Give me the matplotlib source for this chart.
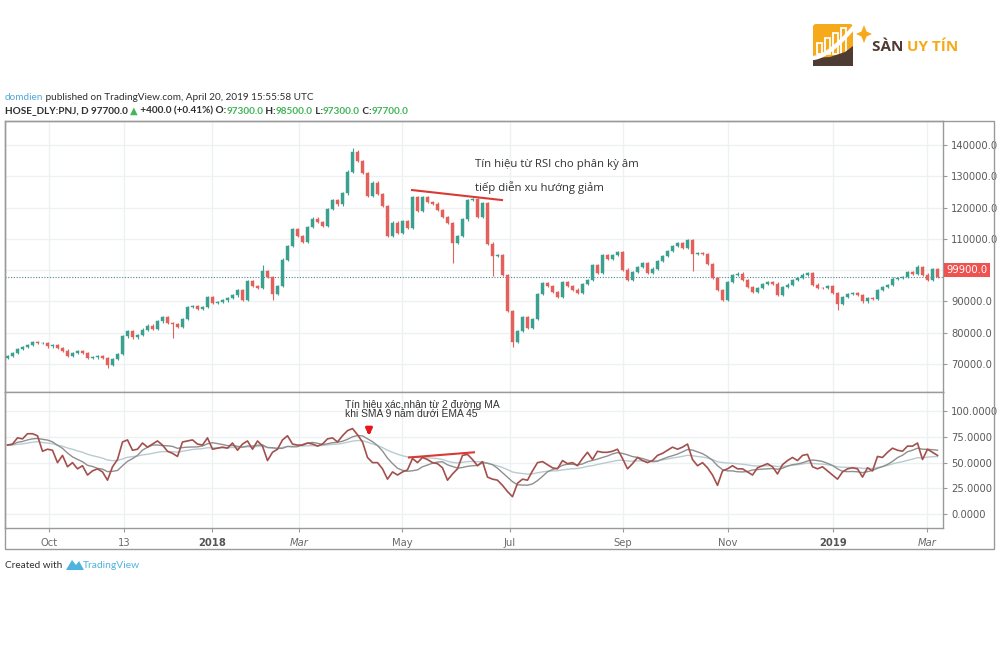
import numpy as np
import pandas as pd
import matplotlib
matplotlib.use("Agg")
import matplotlib.pyplot as plt
from matplotlib.patches import Rectangle, FancyBboxPatch, Polygon

# ============================================================================
# 1. Datos (una vela cada 2 sesiones)
# ============================================================================

close = [72500, 73400, 74800, 75500, 76200, 77000, 76600, 76800, 75600, 76000,
         75200, 74300, 72600, 73500, 74200, 73600, 72000, 72100, 72400, 71900,
         69800, 71500, 73200, 78800, 80600, 78500, 79200, 81000, 82300, 81200,
         83600, 84900, 83200, 82800, 81800, 84300, 88200, 88600, 87700, 88100,
         91400, 89600, 89800, 90300, 91200, 91900, 93600, 90600, 96500, 95000,
         94300, 99600, 97800, 92500, 95000, 103400, 107800, 113200, 110800, 109000,
         113800, 116500, 115300, 114200, 119500, 122300, 121000, 124500, 131500, 137900,
         135000, 131000, 123800, 128000, 124300, 120500, 110900, 115200, 112000, 115800,
         113600, 123300, 119000, 123400, 121800, 121300, 119200, 117000, 115000, 108800,
         111000, 116200, 122300, 122600, 117000, 121500, 108500, 104400, 104800, 98500,
         87000, 77000, 80500, 85000, 81600, 84300, 92400, 96000, 95000, 93000,
         91500, 96200, 94900, 93800, 92600, 95500, 96900, 101600, 99200, 104700,
         103600, 104800, 105900, 100200, 97000, 99400, 101000, 102300, 99200, 100500,
         103000, 104400, 106200, 107600, 108800, 107100, 109600, 105200, 105600, 105100,
         102000, 97500, 93600, 90600, 96200, 98400, 98900, 96800, 94600, 93000,
         94300, 95500, 96300, 95700, 92200, 94600, 95400, 96800, 97500, 98600,
         99000, 95400, 94300, 94200, 94800, 92700, 89300, 91500, 92300, 92600,
         92000, 90000, 91000, 90800, 93600, 94600, 95300, 97300, 97500, 97800,
         99400, 98800, 101000, 98600, 97000, 100400, 97700]
first_open = 72000

# mechas largas visibles en el grafico (indice de vela: precio)
wick_low = {20: 68700, 33: 78300, 53: 90500, 89: 102300, 97: 98000,
            101: 75500, 137: 99600, 166: 87200}
wick_high = {51: 101700, 69: 139000, 182: 101800}

rsi = [67, 68, 74, 73, 78, 78, 76, 61, 63, 62,
       50, 57, 46, 50, 44, 47, 38, 42, 44, 41,
       33, 46, 53, 70, 72, 62, 63, 69, 65, 68,
       71, 67, 61, 59, 56, 70, 71, 72, 68, 67,
       74, 63, 64, 65, 64, 69, 62, 68, 71, 63,
       71, 66, 52, 60, 63, 72, 76, 68, 67, 67,
       69, 68, 66, 68, 73, 74, 70, 76, 81, 83,
       77, 70, 55, 50, 50, 44, 34, 41, 38, 41,
       43, 54, 50, 55, 53, 50, 49, 45, 33, 39,
       44, 57, 58, 53, 47, 51, 36, 34, 33, 28,
       22, 17, 30, 34, 33, 42, 50, 51, 48, 45,
       44, 52, 49, 50, 47, 54, 60, 53, 61, 60,
       60, 61, 63, 54, 44, 49, 55, 52, 50, 52,
       57, 59, 62, 65, 63, 65, 68, 53, 47, 50,
       45, 38, 28, 42, 44, 47, 44, 44, 41, 38,
       45, 47, 49, 46, 39, 48, 52, 55, 52, 57,
       58, 46, 44, 46, 42, 38, 34, 41, 44, 45,
       44, 36, 45, 42, 56, 55, 60, 64, 62, 61,
       66, 66, 69, 53, 63, 60, 57]

tick_labels = ["Oct", "13", "2018", "Mar", "May", "Jul", "Sep", "Nov", "2019", "Mar"]
tick_idx = [8.3, 23.3, 40.9, 58.3, 78.9, 100.5, 123.1, 144.1, 165.1, 183.9]

last_price = 97700
label_price = 99900

# ============================================================================
# 2. Preparar OHLC y medias del RSI
# ============================================================================

df = pd.DataFrame({"close": close})
df["open"] = [first_open] + close[:-1]
df["top"] = df[["open", "close"]].max(axis=1)
df["bot"] = df[["open", "close"]].min(axis=1)
df["high"] = df["top"] + 350
df["low"] = df["bot"] - 350
for k, v in wick_low.items():
    df.loc[k, "low"] = v
for k, v in wick_high.items():
    df.loc[k, "high"] = v
df["up"] = df["close"] >= df["open"]
x = np.arange(len(df))

rsi_s = pd.Series(rsi, dtype=float)
sma = rsi_s.rolling(7, min_periods=1).mean()
ema = rsi_s.ewm(span=22, adjust=False).mean()

# ============================================================================
# 3. Figura
# ============================================================================

W, H = 1000, 667
fig = plt.figure(figsize=(10, 6.67), dpi=100)
fig.patch.set_facecolor("white")

def fr(px_left, px_top, px_right, px_bottom):
    return [px_left / W, 1 - px_bottom / H, (px_right - px_left) / W, (px_bottom - px_top) / H]

ax = fig.add_axes(fr(5, 121, 943, 392))
ax2 = fig.add_axes(fr(5, 392, 943, 528))

UP, DOWN = "#3aa08f", "#e3615c"
GRID = "#edf1f2"
BORDER = "#9a9a9a"
LABEL = "#5a5a5a"

# velas
cols = np.where(df["up"], UP, DOWN)
ax.vlines(x, df["low"], df["high"], colors=cols, lw=0.8, zorder=2)
ax.bar(x, np.maximum(df["top"] - df["bot"], 250), bottom=df["bot"], width=0.55,
       color=cols, edgecolor=cols, linewidth=0.3, zorder=3)

ax.axhline(last_price, color="#4f8290", lw=0.8, ls=(0, (1, 1.5)), zorder=1)

price_ticks = np.arange(70000, 140001, 10000)
ax.set_xlim(-0.5, 187.1)
ax.set_ylim(61050, 147670)
ax.set_yticks(price_ticks)
# la etiqueta de 100000 queda tapada por la etiqueta de precio
ax.set_yticklabels(["" if v == 100000 else f"{v:.1f}" for v in price_ticks])

# RSI
ax2.plot(x, ema, color="#b9cbd1", lw=1.0, zorder=2)
ax2.plot(x, sma, color="#8f8f8f", lw=1.0, zorder=3)
ax2.plot(x, rsi_s, color="#a34f4c", lw=1.2, zorder=4)
ax2.set_xlim(-0.5, 187.1)
ax2.set_ylim(-13.3, 118.4)
ax2.set_yticks([0, 25, 50, 75, 100])
ax2.set_yticklabels([f"{v:.4f}" for v in [0, 25, 50, 75, 100]])

for a in (ax, ax2):
    a.set_xticks(tick_idx)
    a.grid(True, color=GRID, lw=1.0)
    a.set_axisbelow(True)
    a.yaxis.tick_right()
    a.tick_params(axis="y", length=3, color=BORDER, labelsize=7.2, labelcolor=LABEL, pad=3)
    for s in a.spines.values():
        s.set_color(BORDER)
        s.set_linewidth(1.0)
ax.tick_params(axis="x", length=0, labelbottom=False)
ax2.set_xticklabels(tick_labels)
ax2.tick_params(axis="x", length=3, color=BORDER, labelsize=7.2, labelcolor="#6a6a6a", pad=4)
for lbl in ax2.get_xticklabels():
    if lbl.get_text() in ("2018", "2019"):
        lbl.set_fontweight("bold")
        lbl.set_color("#555555")
    if lbl.get_text() == "Mar":
        lbl.set_fontstyle("italic")

# lineas de divergencia
ax.plot([80.9, 98.9], [125600, 122400], color="#d93a35", lw=1.5, zorder=5)
ax2.plot([80.3, 93.3], [55, 60], color="#d93a35", lw=1.5, zorder=5)
ax2.annotate("", xy=(72.3, 73.5), xytext=(72.3, 84.5),
             arrowprops=dict(arrowstyle="-|>", color="#e8161c", lw=2.2, mutation_scale=9))

# ============================================================================
# 4. Capa de textos y logos (coordenadas en pixeles)
# ============================================================================

ov = fig.add_axes([0, 0, 1, 1])
ov.set_xlim(0, W)
ov.set_ylim(H, 0)
ov.axis("off")
ov.patch.set_alpha(0)

ov.add_patch(Rectangle((5, 121), 989, 428, fill=False, edgecolor=BORDER, lw=1.0))

# etiqueta de precio
ov.add_patch(Rectangle((944, 263), 46, 14, color="#ef5350", lw=0))
ov.text(967, 270, f"{label_price:.1f}", color="white", fontsize=7.2, ha="center", va="center")

FAM = ["Lato", "DejaVu Sans"]
renderer = fig.canvas.get_renderer()

def put_row(x0, y0, parts, size, family=FAM):
    for s, col, w in parts:
        t = ov.text(x0, y0, s, color=col, fontsize=size, fontweight=w, family=family,
                    ha="left", va="center")
        x0 += t.get_window_extent(renderer=renderer).width * W / fig.bbox.width

DARK = "#2f2f2f"
GREEN = "#43b55a"
put_row(5, 97, [("domdien", "#53a7d6", "normal"),
                (" published on TradingView.com, April 20, 2019 15:55:58 UTC", DARK, "normal")], 7.2)
put_row(5, 111, [("HOSE_DLY:PNJ, D 97700.0 ", DARK, "bold"),
                 ("▲", GREEN, "bold"),
                 (" +400.0 (+0.41%) O:", DARK, "bold"),
                 ("97300.0", GREEN, "bold"),
                 (" H:", DARK, "bold"),
                 ("98500.0", GREEN, "bold"),
                 (" L:", DARK, "bold"),
                 ("97300.0", GREEN, "bold"),
                 (" C:", DARK, "bold"),
                 ("97700.0", GREEN, "bold")], 7.2, ["Lato", "DejaVu Sans"])

# anotaciones
NOTE = ["Open Sans", "DejaVu Sans"]
ov.text(475, 165, "Tín hiệu từ RSI cho phân kỳ âm", fontsize=8.2, color="#333333",
        family=NOTE, va="center")
ov.text(475, 187, "tiếp diễn xu hướng giảm", fontsize=8.2, color="#333333",
        family=NOTE, va="center")
ov.text(345, 405, "Tín hiệu xác nhận từ 2 đường MA", fontsize=7.4, color="#333333",
        family=["Liberation Sans", "DejaVu Sans"], va="center")
ov.text(345, 414, "khi SMA 9 nằm dưới EMA 45", fontsize=7.4, color="#333333",
        family=["Liberation Sans", "DejaVu Sans"], va="center")

# pie: Created with TradingView
ov.text(5, 565, "Created with", fontsize=7.2, color=DARK, family=FAM, va="center")
tv = "#4fb3e0"
ov.add_patch(Polygon([(66, 570), (72, 560), (76, 565), (79, 561), (84, 570)],
                     closed=True, color=tv, lw=0))
ov.text(83, 565, "TradingView", fontsize=7.4, color=tv, family=FAM, va="center")

# logo SAN UY TIN
ORANGE = "#f6a91b"
BROWN = "#4e3b33"
ov.add_patch(FancyBboxPatch((813, 24), 40, 36, boxstyle="round,pad=0,rounding_size=3",
                            color=ORANGE, lw=0))
for bx, btop in zip([817, 825, 833, 841], [43, 38, 33, 28]):
    ov.add_patch(Rectangle((bx, btop), 5, 54 - btop, facecolor=ORANGE, edgecolor="white", lw=1.3))
t_curve = np.linspace(0, 1, 30)
ov.plot(813 + 40 * t_curve, 58 - 30 * t_curve ** 1.6, color="white", lw=3)
ov.add_patch(Polygon([(813, 58), (830, 57), (845, 52), (853, 46), (853, 66), (813, 66)],
                     closed=True, color=BROWN, lw=0))
sx, sy = 864, 34
ov.add_patch(Polygon([(sx, sy - 9), (sx + 2.5, sy - 2.5), (sx + 8, sy), (sx + 2.5, sy + 2.5),
                      (sx, sy + 9), (sx - 2.5, sy + 2.5), (sx - 8, sy), (sx - 2.5, sy - 2.5)],
                     closed=True, color=ORANGE, lw=0))
put_row(872, 47, [("SÀN ", BROWN, "bold"), ("UY TÍN", ORANGE, "bold")], 11,
        ["Open Sans", "DejaVu Sans"])

fig.savefig("out.png", dpi=100, facecolor="white")
plt.close(fig)
